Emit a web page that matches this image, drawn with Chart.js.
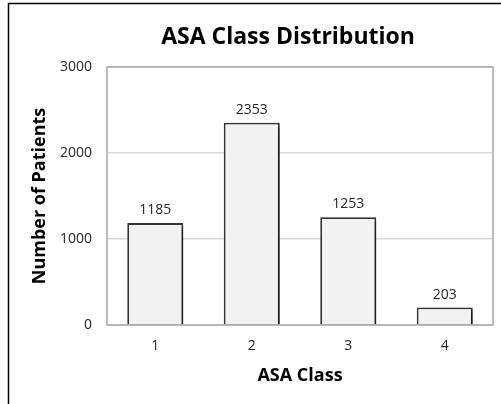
<!DOCTYPE html>
<html>
<head>
<meta charset="utf-8">
<script src="https://cdn.jsdelivr.net/npm/chart.js@4"></script>
<style>
  html, body { margin: 0; padding: 0; background: #fff; }
  #wrap { width: 501px; height: 404px; }
</style>
</head>
<body>
<div id="wrap"><canvas id="c" width="501" height="404"></canvas></div>
<script>
// ASA class categories and patient counts
const categories = ['1', '2', '3', '4'];
const patients = [1185, 2353, 1253, 203];
const yTicks = [0, 1000, 2000, 3000];
const chartTitle = 'ASA Class Distribution';
const xTitle = 'ASA Class';
const yTitle = 'Number of Patients';

const FONT = '"Open Sans", Lato, sans-serif';

// Outer frame, plot outline, bar shadow, value labels and title
const decor = {
  id: 'decor',
  beforeDatasetsDraw(chart) {
    const ctx = chart.ctx;
    ctx.save();
    ctx.shadowColor = 'rgba(0,0,0,0.5)';
    ctx.shadowBlur = 4;
    ctx.shadowOffsetX = 3;
    ctx.shadowOffsetY = 3;
  },
  afterDatasetsDraw(chart) {
    const ctx = chart.ctx;
    ctx.restore();
    const meta = chart.getDatasetMeta(0);
    ctx.save();
    ctx.fillStyle = '#262626';
    ctx.font = '14px ' + FONT;
    ctx.textAlign = 'center';
    ctx.textBaseline = 'bottom';
    meta.data.forEach((bar, i) => {
      ctx.fillText(String(patients[i]), bar.x, bar.y - 6);
    });
    ctx.restore();
  },
  beforeDraw(chart) {
    const ctx = chart.ctx;
    ctx.save();
    ctx.fillStyle = '#fff';
    ctx.fillRect(0, 0, chart.width, chart.height);
    ctx.restore();
  },
  afterDraw(chart) {
    const ctx = chart.ctx;
    const a = chart.chartArea;
    ctx.save();
    ctx.strokeStyle = '#a6a6a6';
    ctx.lineWidth = 1.5;
    ctx.strokeRect(a.left, a.top, a.right - a.left, a.bottom - a.top);
    ctx.strokeStyle = '#000';
    ctx.lineWidth = 1.5;
    ctx.beginPath();
    ctx.moveTo(8.5, chart.height);
    ctx.lineTo(8.5, 3.5);
    ctx.lineTo(chart.width, 3.5);
    ctx.stroke();
    ctx.fillStyle = '#000';
    ctx.font = 'bold 23px ' + FONT;
    ctx.textAlign = 'center';
    ctx.textBaseline = 'alphabetic';
    ctx.fillText(chartTitle, 288, 44);
    ctx.restore();
  }
};

new Chart(document.getElementById('c'), {
  type: 'bar',
  data: {
    labels: categories,
    datasets: [{
      data: patients,
      backgroundColor: '#f2f2f2',
      borderColor: '#333333',
      borderWidth: 1.8,
      barPercentage: 0.58,
      categoryPercentage: 1.0
    }]
  },
  options: {
    responsive: false,
    animation: false,
    devicePixelRatio: 1,
    layout: { padding: { top: 67, right: 8, left: 0, bottom: 0 } },
    plugins: { legend: { display: false }, tooltip: { enabled: false }, title: { display: false } },
    scales: {
      x: {
        afterFit(scale) { scale.height = 79; },
        grid: { display: false, drawTicks: false },
        border: { display: false },
        ticks: { color: '#262626', font: { family: FONT, size: 14 }, padding: 13 },
        title: { display: true, text: xTitle, color: '#000', font: { family: FONT, size: 18, weight: 'bold' }, padding: { top: 17, bottom: 17 } }
      },
      y: {
        min: 0,
        max: 3000,
        afterFit(scale) { scale.width = 107; },
        afterBuildTicks(scale) { scale.ticks = yTicks.map(v => ({ value: v })); },
        grid: { color: '#d9d9d9', lineWidth: 1.5, drawTicks: false },
        border: { display: false },
        ticks: {
          color: '#262626', font: { family: FONT, size: 14 }, padding: 15,
          callback: (v) => String(v)
        },
        title: { display: true, text: yTitle, color: '#000', font: { family: FONT, size: 18, weight: 'bold' }, padding: { top: 29, bottom: 29 } }
      }
    }
  },
  plugins: [decor]
});
</script>
</body>
</html>
